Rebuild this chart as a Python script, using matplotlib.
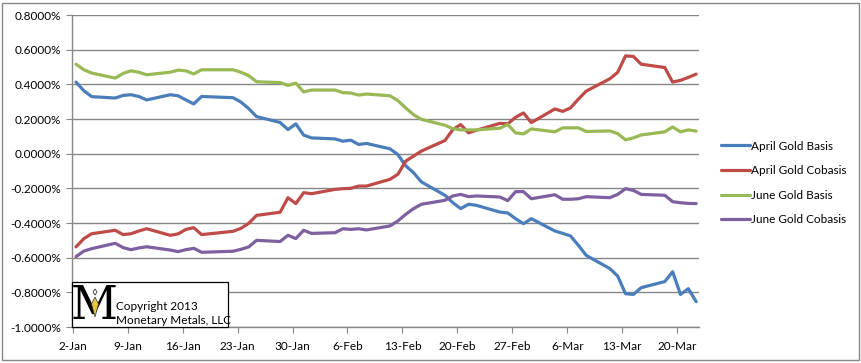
import numpy as np
import pandas as pd
import matplotlib
matplotlib.use('Agg')
import matplotlib.pyplot as plt
from matplotlib.patches import Rectangle, Polygon

# --- Data (percent) ---
dates = pd.to_datetime([
    '2013-01-02', '2013-01-03', '2013-01-04', '2013-01-07', '2013-01-08', '2013-01-09',
    '2013-01-10', '2013-01-11', '2013-01-14', '2013-01-15', '2013-01-16', '2013-01-17',
    '2013-01-18', '2013-01-22', '2013-01-23', '2013-01-24', '2013-01-25', '2013-01-28',
    '2013-01-29', '2013-01-30', '2013-01-31', '2013-02-01', '2013-02-04', '2013-02-05',
    '2013-02-06', '2013-02-07', '2013-02-08', '2013-02-11', '2013-02-12', '2013-02-13',
    '2013-02-14', '2013-02-15', '2013-02-18', '2013-02-19', '2013-02-20', '2013-02-21',
    '2013-02-22', '2013-02-25', '2013-02-26', '2013-02-27', '2013-02-28', '2013-03-01',
    '2013-03-04', '2013-03-05', '2013-03-06', '2013-03-07', '2013-03-08', '2013-03-11',
    '2013-03-12', '2013-03-13', '2013-03-14', '2013-03-15', '2013-03-18', '2013-03-19',
    '2013-03-20', '2013-03-21', '2013-03-22'])

april_basis = [
    0.413, 0.363, 0.329, 0.321, 0.336, 0.340, 0.330, 0.310, 0.340, 0.334, 0.310, 0.287,
    0.330, 0.323, 0.298, 0.260, 0.214, 0.180, 0.139, 0.172, 0.107, 0.091, 0.085, 0.072,
    0.078, 0.053, 0.059, 0.028, -0.005, -0.070, -0.110, -0.163, -0.240, -0.283, -0.317,
    -0.292, -0.298, -0.337, -0.342, -0.375, -0.404, -0.375, -0.446, -0.460, -0.475,
    -0.529, -0.587, -0.663, -0.706, -0.808, -0.812, -0.773, -0.738, -0.681, -0.812,
    -0.779, -0.854]

april_cobasis = [
    -0.538, -0.490, -0.462, -0.442, -0.467, -0.462, -0.446, -0.433, -0.471, -0.463,
    -0.437, -0.427, -0.467, -0.448, -0.431, -0.402, -0.356, -0.338, -0.254, -0.288,
    -0.225, -0.231, -0.206, -0.202, -0.200, -0.187, -0.187, -0.148, -0.119, -0.043,
    -0.014, 0.015, 0.076, 0.139, 0.168, 0.120, 0.135, 0.175, 0.172, 0.210, 0.235, 0.179,
    0.258, 0.244, 0.264, 0.315, 0.361, 0.432, 0.469, 0.564, 0.561, 0.516, 0.497, 0.413,
    0.423, 0.440, 0.459]

june_basis = [
    0.516, 0.484, 0.465, 0.436, 0.463, 0.478, 0.470, 0.455, 0.470, 0.482, 0.478, 0.460,
    0.484, 0.484, 0.470, 0.450, 0.415, 0.410, 0.394, 0.407, 0.356, 0.367, 0.367, 0.352,
    0.350, 0.338, 0.344, 0.334, 0.306, 0.264, 0.225, 0.198, 0.164, 0.145, 0.137, 0.137,
    0.137, 0.147, 0.168, 0.120, 0.114, 0.143, 0.126, 0.149, 0.149, 0.149, 0.128, 0.131,
    0.116, 0.080, 0.091, 0.108, 0.126, 0.154, 0.126, 0.137, 0.130]

june_cobasis = [
    -0.594, -0.562, -0.548, -0.517, -0.542, -0.554, -0.544, -0.537, -0.556, -0.565,
    -0.554, -0.546, -0.569, -0.563, -0.552, -0.538, -0.500, -0.507, -0.471, -0.490,
    -0.442, -0.460, -0.456, -0.433, -0.437, -0.433, -0.440, -0.417, -0.388, -0.350,
    -0.317, -0.292, -0.269, -0.244, -0.235, -0.248, -0.244, -0.250, -0.271, -0.219,
    -0.219, -0.260, -0.237, -0.263, -0.263, -0.260, -0.248, -0.254, -0.235, -0.202,
    -0.212, -0.235, -0.240, -0.277, -0.283, -0.287, -0.288]

series_names = ['April Gold Basis', 'April Gold Cobasis', 'June Gold Basis', 'June Gold Cobasis']
series_colors = ['#4A7EBB', '#BE4B48', '#98B954', '#7D60A0']

y_ticks = [0.8, 0.6, 0.4, 0.2, 0.0, -0.2, -0.4, -0.6, -0.8, -1.0]
tick_dates = pd.date_range('2013-01-02', '2013-03-20', freq='7D')

plt.rcParams['font.family'] = ['Lato', 'DejaVu Sans']

W, H = 862, 363
fig = plt.figure(figsize=(W / 100, H / 100), dpi=100)
ax = fig.add_axes([72 / W, 1 - 327 / H, (699 - 72) / W, (327 - 15) / H])

# day offsets from 2-Jan
start = dates[0]
x = np.array((dates - start).days, dtype=float)

for vals, name, col in zip([april_basis, april_cobasis, june_basis, june_cobasis],
                           series_names, series_colors):
    ax.plot(x, vals, color=col, linewidth=2.3, label=name, solid_capstyle='round')

ax.set_xlim(-0.51, 79.36)
ax.set_ylim(-1.0, 0.8)
ax.set_yticks(y_ticks)
ax.set_yticklabels([f"{v:.4f}%" for v in y_ticks])
tick_x = np.array((tick_dates - start).days, dtype=float) - 0.42
ax.set_xticks(tick_x)
ax.set_xticklabels([f"{d.day}-{d.strftime('%b')}" for d in tick_dates])

grey = '#868686'
ax.grid(axis='y', color=grey, linewidth=1.0)
ax.set_axisbelow(True)
for s in ['top', 'right']:
    ax.spines[s].set_visible(False)
for s in ['left', 'bottom']:
    ax.spines[s].set_color(grey)
    ax.spines[s].set_linewidth(1.0)
ax.tick_params(axis='x', direction='out', length=4, color=grey, labelsize=8.5, pad=6)
ax.tick_params(axis='y', direction='out', length=4, color=grey, labelsize=8.5, pad=4)

# legend on the right
fig.legend(loc='upper left', bbox_to_anchor=(710 / W, 1 - 130 / H), frameon=False,
           fontsize=8.5, handlelength=2.5, handletextpad=0.1, labelspacing=1.15)

# watermark box
def fx(px):
    return px / W

def fy(py):
    return 1 - py / H

bx0, by0, bx1, by1 = 72, 282, 228, 327
fig.patches.append(Rectangle((fx(bx0), fy(by1)), (bx1 - bx0) / W, (by1 - by0) / H,
                             transform=fig.transFigure, facecolor='white', edgecolor='black',
                             linewidth=0.9, zorder=5))
fig.text(fx(94), fy(306), 'M', family='DejaVu Serif', fontsize=33, ha='center',
         va='center', color='black', zorder=6)
# small gold pendant in the logo
fig.patches.append(Polygon([(fx(95), fy(297)), (fx(98.5), fy(304)), (fx(95), fy(317)),
                            (fx(91.5), fy(304))], closed=True, transform=fig.transFigure,
                           facecolor='#E8C440', edgecolor='#333333', linewidth=0.5, zorder=7))
fig.patches.append(Polygon([(fx(95), fy(289)), (fx(97), fy(292)), (fx(95), fy(295)),
                            (fx(93), fy(292))], closed=True, transform=fig.transFigure,
                           facecolor='white', edgecolor='#333333', linewidth=0.6, zorder=7))
fig.text(fx(116), fy(306), 'Copyright 2013', fontsize=8.5, va='center', zorder=6)
fig.text(fx(116), fy(320), 'Monetary Metals, LLC', fontsize=8.5, va='center', zorder=6)

# outer chart border
fig.patches.append(Rectangle((fx(2), fy(360)), 857 / W, 357 / H, transform=fig.transFigure,
                             facecolor='none', edgecolor=grey, linewidth=1.0))

fig.savefig('out.png', dpi=100)
